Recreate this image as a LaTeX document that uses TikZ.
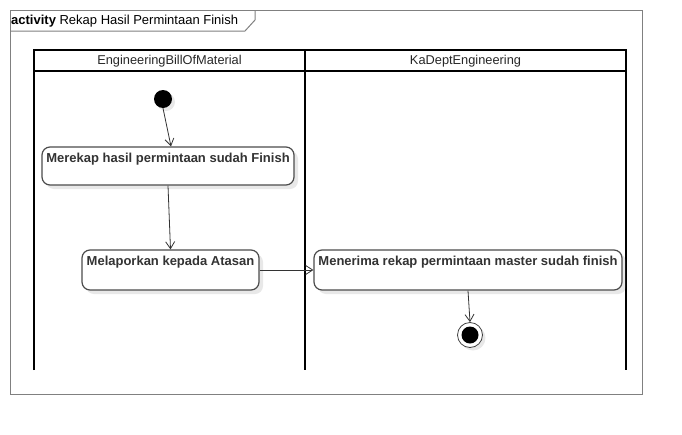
\documentclass[tikz,border=0pt]{standalone}
\usepackage{fontspec}
\setmainfont{Liberation Sans}
\usetikzlibrary{arrows.meta,shadows}
\begin{document}
\begin{tikzpicture}[x=1pt,y=-1pt,
  frameline/.style={draw=black!50,line width=1pt},
  laneline/.style={draw=black,line width=2pt},
  lanehead/.style={font=\fontsize{12.8}{14}\selectfont,text=black!85},
  action/.style={draw=black!70,line width=1.2pt,rounded corners=8pt,fill=white,
    drop shadow={opacity=0.18,shadow xshift=4pt,shadow yshift=-4pt},
    inner sep=0pt},
  acttext/.style={font=\bfseries\fontsize{13}{15}\selectfont,text=black!80,anchor=north},
  flow/.style={draw=black!80,line width=0.8pt,-{Straight Barb[length=7pt,width=9pt,line width=0.8pt]}},
  startnode/.style={circle,fill=black,minimum size=18pt,inner sep=0pt,
    drop shadow={opacity=0.18,shadow xshift=3pt,shadow yshift=-3pt}},
  endnode/.style={circle,draw=black!75,line width=0.8pt,fill=white,minimum size=25pt,inner sep=0pt,
    drop shadow={opacity=0.18,shadow xshift=3pt,shadow yshift=-3pt}},
]
\useasboundingbox (0,0) rectangle (682,434);

% activity frame with its name tab
\draw[frameline] (10,10) rectangle (642,394);
\draw[frameline] (10,31) -- (245,31) -- (255,20) -- (255,10);
\node[anchor=west,font=\fontsize{13}{15}\selectfont,inner sep=0pt] (title) at (11,21.5)
  {\textbf{activity} Rekap Hasil Permintaan Finish};

% swimlanes
\draw[laneline] (34,370) -- (34,50) -- (626,50) -- (626,370);
\draw[laneline] (34,71) -- (626,71);
\draw[laneline] (305,50) -- (305,370);
\node[lanehead] (laneA) at (169.5,61) {EngineeringBillOfMaterial};
\node[lanehead] (laneB) at (465.5,61) {KaDeptEngineering};

% nodes
\node[startnode] (start) at (163,99) {};
\node[action,minimum width=252pt,minimum height=38pt,
  label={[acttext,yshift=-3.5pt]north:Merekap hasil permintaan sudah Finish}] (a1) at (168,166) {};
\node[action,minimum width=177pt,minimum height=40pt,
  label={[acttext,yshift=-3.5pt]north:Melaporkan kepada Atasan}] (a2) at (170.5,270) {};
\node[action,minimum width=308pt,minimum height=40pt,
  label={[acttext,yshift=-3.5pt]north:Menerima rekap permintaan master sudah finish}] (a3) at (468,270) {};
\node[endnode] (end) at (470,335) {};
\fill[black] (end.center) circle (8.5pt);

% control flows
\draw[flow] (start.south) -- ([xshift=3pt]a1.north);
\draw[flow] (a1.south) -- (a2.north);
\draw[flow] (a2.east) -- (a3.west);
\draw[flow] (a3.south) -- (end.north);
\end{tikzpicture}
\end{document}
